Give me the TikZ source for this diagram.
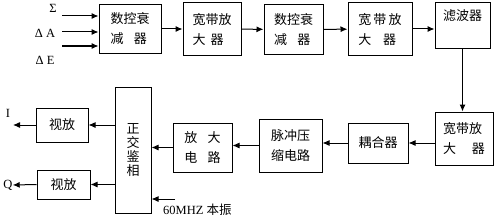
\documentclass[tikz,border=0pt]{standalone}
\usepackage{fontspec}
\setmainfont{Liberation Serif}
\newfontfamily\cjk{Noto Sans CJK SC}
\usetikzlibrary{arrows.meta, calc}

\tikzset{
    blk/.style={draw, line width=1pt, inner sep=0pt, align=left,
        font=\cjk\fontsize{13}{20}\selectfont},
    arr/.style={line width=1pt, -{Latex[length=7pt,width=6pt]}},
    lbl/.style={inner sep=0pt, font=\fontsize{12.5}{14}\selectfont}
}

\begin{document}
\begin{tikzpicture}[x=1pt, y=-1pt]
    \useasboundingbox (0,0) rectangle (502,222);
    % top row
    \node[blk, minimum width=62, minimum height=48] (att1) at (130,29) {数控衰\\减\hspace{0.8em}器};
    \node[blk, minimum width=58, minimum height=52] (amp1) at (212,29) {宽带放\\大\hspace{0.4em}器};
    \node[blk, minimum width=59, minimum height=49] (att2) at (293.5,29.5) {数控衰\\减\hspace{0.8em}器};
    \node[blk, minimum width=64, minimum height=52] (amp2) at (380,29) {宽\,带\,放\\大\hspace{0.9em}器};
    \node[blk, minimum width=55, minimum height=45,
        label={[below=4pt, font=\cjk\fontsize{13}{14}\selectfont]north:滤波器}] (filt) at (462.5,25.5) {};
    % bottom row
    \node[blk, minimum width=58, minimum height=53] (amp3) at (464,138.5) {宽带放\\大\hspace{1.2em}器};
    \node[blk, minimum width=60, minimum height=40] (coup) at (378,143) {耦合器};
    \node[blk, minimum width=63, minimum height=53] (comp) at (290.5,145.5) {脉冲压\\缩电路};
    \node[blk, minimum width=59, minimum height=49] (amp4) at (202.5,147.5) {放\hspace{0.8em}大\\电\hspace{0.8em}路};
    \node[blk, minimum width=36, minimum height=126, align=center,
        font=\cjk\fontsize{13}{14}\selectfont] (demod) at (133,150) {正\\交\\鉴\\相};
    \node[blk, minimum width=52, minimum height=34] (vidI) at (62,125) {视放};
    \node[blk, minimum width=53, minimum height=29] (vidQ) at (63.5,184.5) {视放};
    % inputs and outputs
    \node[lbl] (sig) at (53,8) {Σ};
    \node[lbl] (da) at (45,33) {Δ A};
    \node[lbl] (de) at (45,60) {Δ E};
    \coordinate (inS) at (62,16);
    \coordinate (inA) at (62,32);
    \coordinate (inE) at (62,46);
    \node[lbl] (outI) at (8,113) {I};
    \coordinate (endI) at (13,125);
    \node[lbl] (outQ) at (8,185) {Q};
    \coordinate (lo) at (175,199);
    \node[lbl, anchor=west] (loTxt) at (163,210) {60MHZ {\cjk 本振}};
    \draw[arr] (inS) -- (inS -| att1.west);
    \draw[arr] (inA) -- (inA -| att1.west);
    \draw[arr] (inE) -- (inE -| att1.west);
    \draw[arr] (att1) -- (amp1);
    \draw[arr] (amp1) -- (att2);
    \draw[arr] (att2) -- (amp2);
    \draw[arr] (amp2.east) -- (amp2.east -| filt.west);
    \draw[arr] (filt.south) -- (filt.south |- amp3.north);
    \draw[arr] (amp3.west |- coup.east) -- (coup.east);
    \draw[arr] (coup.west) -- (coup.west -| comp.east);
    \draw[arr] (comp.west) -- (comp.west -| amp4.east);
    \draw[arr] (amp4.west) -- (amp4.west -| demod.east);
    \draw[arr] (vidI.east -| demod.west) -- (vidI.east);
    \draw[arr] (vidQ.east -| demod.west) -- (vidQ.east);
    \draw[arr] (vidI.west) -- (vidI.west -| endI);
    \draw[arr] (vidQ.west) -- (outQ.east);
    \draw[arr] (lo) -- (lo -| demod.east);
\end{tikzpicture}
\end{document}
